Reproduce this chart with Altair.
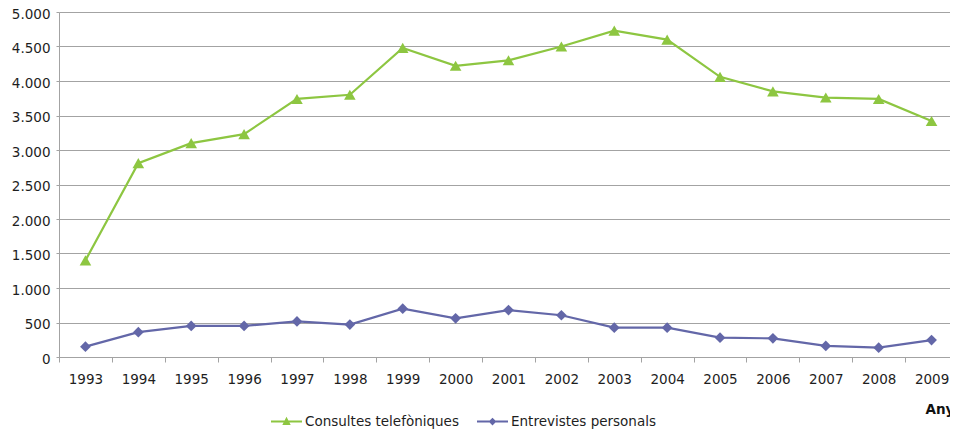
import altair as alt
import pandas as pd

years = ["1993", "1994", "1995", "1996", "1997", "1998", "1999", "2000", "2001",
         "2002", "2003", "2004", "2005", "2006", "2007", "2008", "2009"]
series_names = ["Consultes telefòniques", "Entrevistes personals"]
consultes = [1400, 2810, 3100, 3230, 3740, 3800, 4480, 4220, 4300, 4500, 4730, 4600,
             4060, 3850, 3760, 3740, 3420]
entrevistes = [150, 360, 450, 450, 515, 470, 700, 560, 680, 605, 425, 425,
               280, 270, 160, 135, 245]
colors = ["#8DC641", "#6367A8"]
shapes = ["triangle-up", "diamond"]
marker_sizes = [135, 115]
y_ticks = [0, 500, 1000, 1500, 2000, 2500, 3000, 3500, 4000, 4500, 5000]

rows = []
for name, vals in zip(series_names, [consultes, entrevistes]):
    for yr, v in zip(years, vals):
        rows.append({"any": yr, "serie": name, "valor": v})
df = pd.DataFrame(rows)

FONT = "DejaVu Sans"
FS = 13.5
GRID = "#A3A3A3"

x = alt.X(
    "any:O",
    sort=years,
    scale=alt.Scale(type="band", paddingInner=0, paddingOuter=0),
    axis=alt.Axis(
        title="Anys", tickBand="extent", grid=False, labelAngle=0,
        labelFont=FONT, labelFontSize=FS, labelColor="#1e1e1e", labelPadding=10,
        tickSize=5, tickColor=GRID, domainColor=GRID,
        titleFont=FONT, titleFontSize=FS, titleFontWeight="bold", titleColor="#111",
        titleX=866, titleY=45, titleAlign="left", titleBaseline="top",
    ),
)
y = alt.Y(
    "valor:Q",
    scale=alt.Scale(domain=[0, 5000], nice=False),
    axis=alt.Axis(
        title=None, values=y_ticks, grid=True, gridColor=GRID, domainColor=GRID,
        tickColor=GRID, tickSize=3, labelPadding=6, labelOffset=2,
        labelFont=FONT, labelFontSize=FS, labelColor="#1e1e1e",
        labelExpr="replace(format(datum.value, ','), ',', '.')",
    ),
)

# legend symbols: a short line (thin filled bar) with the marker in the middle
bar = "M-1,-0.068L1,-0.068L1,0.068L-1,0.068Z"
tri = bar + "M-0.27,0.23L0,-0.3L0.27,0.23Z"
dia = bar + "M-0.25,0L0,-0.25L0.25,0L0,0.25Z"
legend = alt.Legend(
    title=None, orient="none", legendX=212, legendY=394, direction="horizontal",
    symbolSize=961, symbolStrokeWidth=0, symbolOpacity=1,
    labelFont=FONT, labelFontSize=FS, labelColor="#1e1e1e",
    labelOffset=3, columnPadding=18, padding=0,
)

layers = []
for name, col, shp, sz in zip(series_names, colors, shapes, marker_sizes):
    base = alt.Chart(df).transform_filter(alt.datum.serie == name)
    layers.append(base.mark_line(strokeWidth=2.2, color=col).encode(x=x, y=y))
    layers.append(
        base.mark_point(filled=True, size=sz, opacity=1, shape=shp, color=col).encode(x=x, y=y)
    )

legend_layer = alt.Chart(df).mark_point(filled=True, size=961, opacity=0).encode(
    x=x, y=y,
    color=alt.Color("serie:N", scale=alt.Scale(domain=series_names, range=colors), legend=legend),
    shape=alt.Shape("serie:N", scale=alt.Scale(domain=series_names, range=[tri, dia]), legend=legend),
)
layers.append(legend_layer)

chart = (
    alt.layer(*layers)
    .properties(
        width=899, height=345,
        autosize=alt.AutoSizeParams(type="none"),
        padding={"left": 51, "top": 4, "right": -8, "bottom": 80},
    )
    .configure_view(strokeWidth=0)
)

chart.save("out.html", embed_options={"renderer": "svg", "actions": False})
